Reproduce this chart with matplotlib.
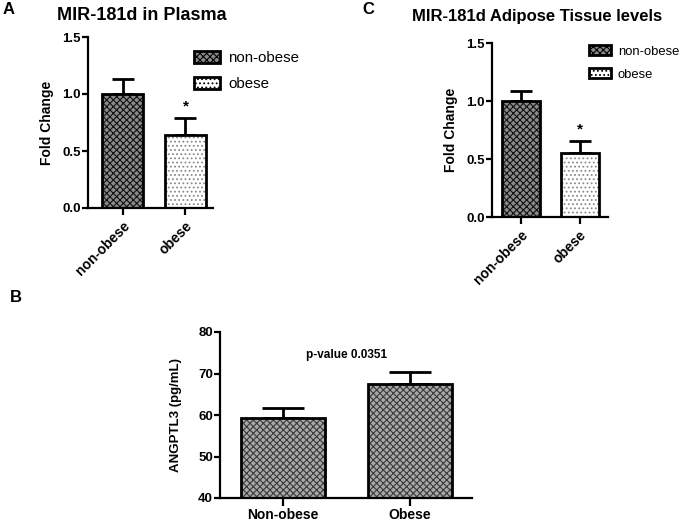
import matplotlib
matplotlib.use("Agg")
import matplotlib.pyplot as plt
from matplotlib.patches import Patch

plt.rcParams['font.family'] = ['Liberation Sans', 'DejaVu Sans']
plt.rcParams['hatch.linewidth'] = 0.8

# panel A: plasma
groups_a = ["non-obese", "obese"]
fold_a = [1.00, 0.64]
sem_a = [0.13, 0.15]

# panel C: adipose tissue
groups_c = ["non-obese", "obese"]
fold_c = [1.00, 0.555]
sem_c = [0.09, 0.10]

# panel B: ANGPTL3
groups_b = ["Non-obese", "Obese"]
angptl3 = [59.3, 67.4]
sem_b = [2.4, 2.9]

styles_small = [dict(face="#8a8a8a", hatch="xxxxx", hc="#111111"),
                dict(face="white", hatch="....", hc="#8a8a8a")]
style_b = dict(face="#a8a8a8", hatch="xxxxx", hc="#3a3a3a")

fig = plt.figure(figsize=(6.85, 5.26), dpi=100)
W, H = 685.0, 526.0


def px_axes(left, top, right, bottom):
    return fig.add_axes([left / W, 1 - bottom / H, (right - left) / W, (bottom - top) / H])


def draw_bars(ax, xs, vals, errs, styles, width, capsize):
    for x, v, e, st in zip(xs, vals, errs, styles):
        ax.bar(x, v, width, color=st["face"], hatch=st["hatch"],
               edgecolor=st["hc"], linewidth=0, zorder=2)
        ax.bar(x, v, width, fill=False, edgecolor="black", linewidth=2, zorder=3)
        ax.errorbar(x, v, yerr=[[0], [e]], fmt="none", ecolor="black",
                    elinewidth=2, capsize=capsize, capthick=2, zorder=1)


def style_axes(ax):
    for s in ["top", "right"]:
        ax.spines[s].set_visible(False)
    for s in ["left", "bottom"]:
        ax.spines[s].set_linewidth(1.6)
    ax.tick_params(axis="y", width=1.6, length=4, labelsize=9.5, pad=1)
    ax.tick_params(axis="x", width=1.6, length=5, pad=2)
    for lab in ax.get_yticklabels():
        lab.set_fontweight("bold")


def small_panel(ax, groups, vals, errs, xlim, capsize, title, title_xy, title_size,
                letter, letter_xy, leg_xy, leg_size, text_pad):
    xs = list(range(len(groups)))
    draw_bars(ax, xs, vals, errs, styles_small, 0.65, capsize)
    ax.set_xlim(*xlim)
    ax.set_ylim(0, 1.5)
    ax.set_yticks([0.0, 0.5, 1.0, 1.5])
    ax.set_yticklabels(["0.0", "0.5", "1.0", "1.5"])
    ax.set_xticks(xs)
    ax.set_xticklabels(groups, rotation=45, ha="right", va="top",
                       rotation_mode="anchor", fontsize=10, fontweight="bold")
    ax.set_ylabel("Fold Change", fontsize=10, fontweight="bold", labelpad=6)
    style_axes(ax)
    ax.tick_params(axis="x", pad=3)
    ax.annotate("*", (1, vals[1] + errs[1]), xytext=(0, 3), textcoords="offset points",
                ha="center", va="bottom", fontsize=11, fontweight="bold")
    fig.text(title_xy[0] / W, 1 - title_xy[1] / H, title, fontsize=title_size,
             fontweight="bold", ha="left", va="center")
    fig.text(letter_xy[0] / W, 1 - letter_xy[1] / H, letter, fontsize=12,
             fontweight="bold", ha="left", va="center")
    handles = [Patch(facecolor=st["face"], hatch=st["hatch"], edgecolor="black",
                     linewidth=2, label=g) for st, g in zip(styles_small, groups)]
    fig.legend(handles=handles, loc="upper left",
               bbox_to_anchor=(leg_xy[0] / W, 1 - leg_xy[1] / H),
               frameon=False, fontsize=leg_size, handlelength=1.7, handleheight=0.8,
               handletextpad=text_pad, labelspacing=0.8, borderaxespad=0, borderpad=0)


ax_a = px_axes(88, 37, 213, 208)
small_panel(ax_a, groups_a, fold_a, sem_a, (-0.548, 1.437), 8,
            "MIR-181d in Plasma", (57, 16), 13, "A", (3, 9), (194, 51), 10.8, 0.6)

ax_c = px_axes(492, 43, 608, 217)
small_panel(ax_c, groups_c, fold_c, sem_c, (-0.496, 1.487), 8,
            "MIR-181d Adipose Tissue levels", (412, 17), 12, "C", (362, 9), (589, 45), 9.4, 0.5)

# panel B
ax_b = px_axes(220, 332, 472, 498)
xs_b = list(range(len(groups_b)))
draw_bars(ax_b, xs_b, angptl3, sem_b, [style_b, style_b], 0.66, 15)
ax_b.set_xlim(-0.496, 1.488)
ax_b.set_ylim(40, 80)
ax_b.set_yticks([40, 50, 60, 70, 80])
ax_b.set_xticks(xs_b)
ax_b.set_xticklabels(groups_b, fontsize=10, fontweight="bold")
ax_b.set_ylabel("ANGPTL3 (pg/mL)", fontsize=9.5, fontweight="bold", labelpad=12)
style_axes(ax_b)
ax_b.tick_params(axis="x", length=6, pad=1)
ax_b.text(0.5, 74.5, "p-value 0.0351", ha="center", va="center",
          fontsize=8.5, fontweight="bold")
fig.text(10 / W, 1 - 298 / H, "B", fontsize=12, fontweight="bold", ha="left", va="center")

fig.savefig("out.png", dpi=100)
